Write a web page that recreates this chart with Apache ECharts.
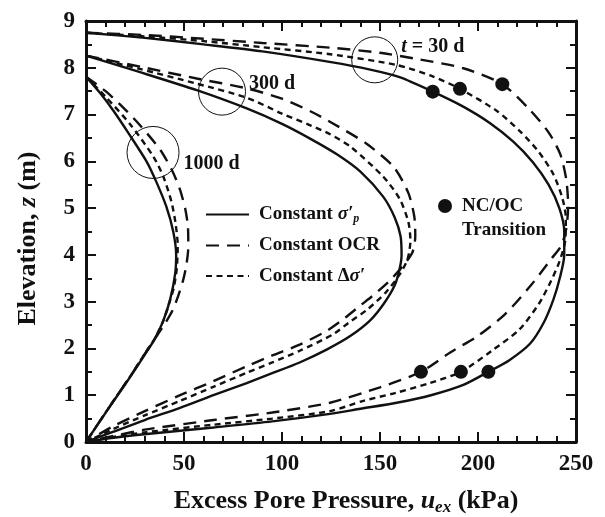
<!DOCTYPE html>
<html>
<head>
<meta charset="utf-8">
<script src="https://cdn.jsdelivr.net/npm/echarts@6/dist/echarts.min.js"></script>
<style>
html,body{margin:0;padding:0;background:#fff}
#chart{width:605px;height:517px}
</style>
</head>
<body>
<div id="chart"></div>
<script>
// Isochrones of excess pore pressure u_ex (kPa) against elevation z (m)
// for three compressibility assumptions at t = 30, 300 and 1000 days.

const xRange = [0, 250];
const xStep = 50;
const yRange = [0, 9];
const yStep = 1;

const legendNames = ['Constant σ′p', 'Constant OCR', 'Constant Δσ′'];

// t = 30 d
const sigmaP30 = [[0,8.75],[30,8.64],[60,8.5],[90,8.35],[125,8.12],[145,7.96],[160,7.8],[176.9,7.49],[192,7.18],[206,6.82],[218,6.42],[228,5.98],[236,5.5],[241.5,5.0],[244,4.5],[244,4.0],[242,3.55],[238.5,3.05],[233.5,2.55],[226.5,2.1],[216,1.75],[205.3,1.5],[192.5,1.22],[176,1.0],[158.5,0.84],[140,0.71],[124.5,0.6],[95,0.44],[65,0.31],[31,0.17],[14,0.09],[0,0]];
const ocr30 = [[0,8.75],[30,8.7],[60,8.62],[90,8.53],[124.5,8.43],[150,8.32],[170,8.18],[192.5,7.99],[212.4,7.65],[226,7.12],[236,6.62],[242,6.15],[245,5.62],[246,5.05],[245,4.55],[242.5,4.2],[237.5,3.92],[227,3.35],[214,2.74],[200,2.27],[186,1.92],[170.9,1.5],[150,1.17],[124.5,0.84],[95,0.63],[65,0.47],[31,0.27],[14,0.13],[0,0]];
const dSigma30 = [[0,8.75],[30,8.67],[60,8.57],[90,8.44],[124.5,8.29],[158.5,8.06],[176,7.83],[190.8,7.55],[209.5,7.08],[222,6.62],[231,6.2],[238.5,5.72],[243,5.22],[244.8,4.8],[244.5,4.3],[241.5,3.85],[237,3.42],[231,2.95],[221,2.4],[207,1.95],[191.3,1.5],[175.5,1.26],[158,1.05],[141.5,0.88],[124.5,0.66],[95,0.5],[65,0.37],[31,0.21],[14,0.11],[0,0]];

// t = 300 d
const sigmaP300 = [[0,8.26],[28,7.9],[56.5,7.52],[82,7.13],[100,6.8],[115,6.47],[128,6.15],[140,5.78],[151.7,5.24],[157.5,4.8],[160.5,4.4],[161,4.0],[160,3.7],[157.5,3.35],[152,2.96],[145,2.6],[135,2.27],[123,1.98],[109,1.7],[95,1.47],[82,1.26],[65,1.0],[48,0.73],[30,0.47],[14,0.22],[0,0]];
const ocr300 = [[0,8.26],[28,8.02],[56.5,7.77],[82,7.56],[100,7.34],[115,7.06],[126,6.81],[143,6.38],[157,5.88],[164.5,5.32],[167.5,4.82],[168,4.4],[166.5,4.05],[162,3.78],[155,3.45],[147,3.15],[140,2.92],[132,2.65],[123,2.38],[109,2.08],[95,1.85],[82,1.62],[65,1.3],[48,1.0],[30,0.66],[14,0.34],[0,0]];
const dSigma300 = [[0,8.26],[28,7.97],[56.5,7.66],[82,7.36],[100,7.02],[115,6.76],[124.5,6.58],[135,6.31],[151.7,5.67],[160,5.2],[164.5,4.7],[165.5,4.3],[164,3.9],[160,3.58],[153,3.2],[143.2,2.82],[134,2.55],[126,2.3],[109,1.95],[95,1.7],[82,1.48],[65,1.18],[48,0.88],[30,0.57],[14,0.28],[0,0]];

// t = 1000 d
const sigmaP1000 = [[0,7.81],[7,7.47],[14,7.08],[22,6.58],[31,5.99],[36,5.55],[41,5.03],[44.5,4.5],[46,4.0],[45.5,3.6],[43,3.06],[39.5,2.6],[35,2.2],[31,1.93],[23,1.42],[14,0.87],[7,0.44],[0,0]];
const ocr1000 = [[0,7.81],[10,7.5],[19,7.15],[28,6.75],[37.8,6.25],[44,5.8],[48,5.39],[50.8,4.95],[52,4.6],[52.2,4.17],[51.2,3.78],[49.5,3.45],[47,3.12],[44,2.8],[39.5,2.48],[35,2.2],[31,1.95],[23,1.43],[14,0.88],[7,0.44],[0,0]];
const dSigma1000 = [[0,7.81],[10,7.38],[22.4,6.8],[34.4,6.1],[39.5,5.67],[43.5,5.15],[45.6,4.7],[46.8,4.2],[46.3,3.7],[44.8,3.3],[43,3.04],[39.5,2.6],[35,2.2],[31,1.95],[23,1.43],[14,0.88],[7,0.44],[0,0]];

// NC/OC transition points (t = 30 d), upper and lower
const transitionUpper = [[176.9,7.49],[190.8,7.55],[212.4,7.65]];
const transitionLower = [[205.3,1.5],[191.3,1.5],[170.9,1.5]];

// Circled call-outs marking each isochrone group
const timeMarks = [[147.3,8.17],[69.4,7.49],[34.2,6.19]];
const timeLabels = ['{it|t} = 30 d', '300 d', '1000 d'];

const ink = '#111111';
const serif = "'Liberation Serif','Times New Roman',serif";

function curve(name, data, dash) {
  return {
    type: 'line', name: name, data: data,
    symbol: 'none', showSymbol: false, smooth: 0.25,
    lineStyle: { color: ink, width: 2.4, type: dash },
    itemStyle: { color: ink },
    silent: true, z: 3
  };
}

const solidDash = 'solid';
const longDash = [13, 8];
const shortDash = [6, 4.5];

const series = [
  curve(legendNames[0], sigmaP30, solidDash),
  curve(legendNames[1], ocr30, longDash),
  curve(legendNames[2], dSigma30, shortDash),
  curve(legendNames[0], sigmaP300, solidDash),
  curve(legendNames[1], ocr300, longDash),
  curve(legendNames[2], dSigma300, shortDash),
  curve(legendNames[0], sigmaP1000, solidDash),
  curve(legendNames[1], ocr1000, longDash),
  curve(legendNames[2], dSigma1000, shortDash),
  {
    type: 'scatter', name: 'NC/OC Transition',
    data: transitionUpper.concat(transitionLower),
    symbol: 'circle', symbolSize: 14,
    itemStyle: { color: ink, opacity: 1 }, silent: true, z: 5
  },
  {
    type: 'scatter', name: 'marks',
    symbol: 'circle',
    itemStyle: { color: 'rgba(0,0,0,0)', borderColor: ink, borderWidth: 1, opacity: 1 },
    silent: true, z: 4,
    data: [
      { value: timeMarks[0], symbolSize: 46, label: { show: true, position: 'right', distance: 3, offset: [0, -13], formatter: timeLabels[0] } },
      { value: timeMarks[1], symbolSize: 47, label: { show: true, position: 'right', distance: 3, offset: [0, -8], formatter: timeLabels[1] } },
      { value: timeMarks[2], symbolSize: 52, label: { show: true, position: 'right', distance: 4, offset: [0, 11], formatter: timeLabels[2] } }
    ],
    label: {
      color: ink, opacity: 1, fontFamily: serif, fontWeight: 'bold', fontSize: 20,
      rich: { it: { fontFamily: serif, fontWeight: 'bold', fontStyle: 'italic', fontSize: 20, color: ink } }
    }
  }
];

function axisBase(extra) {
  return Object.assign({
    type: 'value',
    axisLine: { show: true, onZero: false, lineStyle: { color: ink, width: 3 } },
    axisTick: { show: true, inside: true, length: 10, lineStyle: { color: ink, width: 2 } },
    minorTick: { show: true, length: 6, lineStyle: { color: ink, width: 2 } },
    splitLine: { show: false },
    minorSplitLine: { show: false },
    axisLabel: { color: ink, fontFamily: serif, fontWeight: 'bold', fontSize: 23, margin: 11 }
  }, extra);
}

const option = {
  animation: false,
  backgroundColor: '#fff',
  grid: { left: 86, right: 29, top: 21, bottom: 75, containLabel: false, outerBoundsMode: 'none' },
  xAxis: [
    axisBase({
      position: 'bottom', min: xRange[0], max: xRange[1], interval: xStep,
      minorTick: { show: true, splitNumber: 5, length: 6, lineStyle: { color: ink, width: 2 } },
      name: 'Excess Pore Pressure, {it|u}{sub|ex} (kPa)',
      nameLocation: 'middle', nameGap: 44,
      nameTextStyle: {
        color: ink, fontFamily: serif, fontWeight: 'bold', fontSize: 26, lineHeight: 30,
        padding: [0, 0, 0, 30],
        rich: {
          it: { fontFamily: serif, fontWeight: 'bold', fontStyle: 'italic', fontSize: 26, color: ink, lineHeight: 30 },
          sub: { fontFamily: serif, fontWeight: 'bold', fontStyle: 'italic', fontSize: 17, color: ink, lineHeight: 12, verticalAlign: 'bottom' }
        }
      }
    }),
    axisBase({
      position: 'top', min: xRange[0], max: xRange[1], interval: xStep,
      minorTick: { show: true, splitNumber: 5, length: 6, lineStyle: { color: ink, width: 2 } },
      axisLabel: { show: false }
    })
  ],
  yAxis: [
    axisBase({
      position: 'left', min: yRange[0], max: yRange[1], interval: yStep,
      minorTick: { show: true, splitNumber: 2, length: 6, lineStyle: { color: ink, width: 2 } },
      name: 'Elevation, {it|z} (m)',
      nameLocation: 'middle', nameGap: 45, nameRotate: 90,
      nameTextStyle: {
        color: ink, fontFamily: serif, fontWeight: 'bold', fontSize: 26,
        padding: [0, 14, 0, 0],
        rich: { it: { fontFamily: serif, fontWeight: 'bold', fontStyle: 'italic', fontSize: 26, color: ink } }
      }
    }),
    axisBase({
      position: 'right', min: yRange[0], max: yRange[1], interval: yStep,
      minorTick: { show: true, splitNumber: 2, length: 6, lineStyle: { color: ink, width: 2 } },
      axisLabel: { show: false }
    })
  ],
  legend: [
    {
      data: legendNames,
      orient: 'vertical', left: 205, top: 205, padding: 0,
      itemWidth: 43, itemHeight: 14, itemGap: 11.5,
      selectedMode: false,
      itemStyle: { color: 'rgba(0,0,0,0)', borderColor: 'rgba(0,0,0,0)', borderWidth: 0, opacity: 0 },
      formatter: function (n) {
        if (n === legendNames[0]) return '{t|Constant }{g|σ′}{s|p}';
        if (n === legendNames[1]) return '{t|Constant OCR}';
        return '{t|Constant Δ}{g|σ′}';
      },
      textStyle: {
        color: ink, fontFamily: serif, fontWeight: 'bold', fontSize: 19, padding: [0, 0, 0, 5],
        rich: {
          t: { fontFamily: serif, fontWeight: 'bold', fontSize: 19, color: ink, lineHeight: 20 },
          g: { fontFamily: serif, fontWeight: 'bold', fontStyle: 'italic', fontSize: 19, color: ink, lineHeight: 20 },
          s: { fontFamily: serif, fontWeight: 'bold', fontStyle: 'italic', fontSize: 12, color: ink, lineHeight: 10, verticalAlign: 'bottom' }
        }
      }
    },
    {
      data: [{ name: 'NC/OC Transition', icon: 'circle' }],
      left: 438, top: 170, padding: 0,
      itemWidth: 14, itemHeight: 14,
      selectedMode: false,
      itemStyle: { color: ink, opacity: 1 },
      formatter: function () { return ' \nNC/OC\nTransition'; },
      textStyle: {
        color: ink, fontFamily: serif, fontWeight: 'bold', fontSize: 19, lineHeight: 24,
        padding: [0, 0, 0, 5]
      }
    }
  ],
  series: series
};

const chart = echarts.init(document.getElementById('chart'), null, { renderer: 'canvas' });
chart.setOption(option);
</script>
</body>
</html>
